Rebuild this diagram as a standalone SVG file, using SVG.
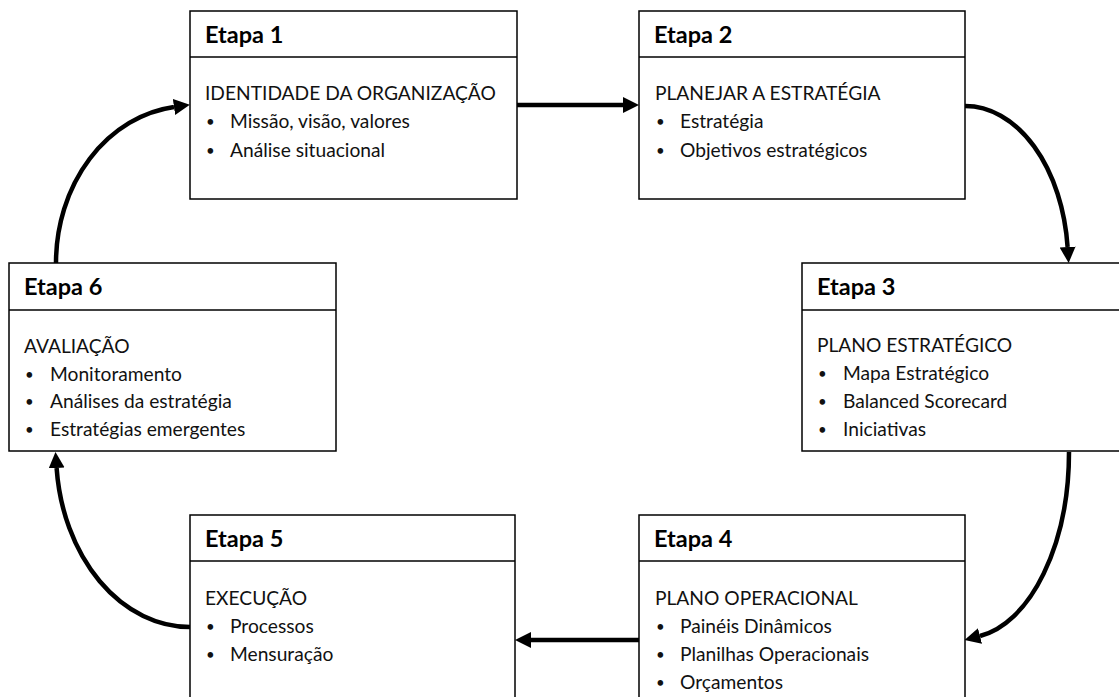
<svg xmlns="http://www.w3.org/2000/svg" width="1119" height="697" viewBox="0 0 1119 697">
<style>
.box{fill:#fff;stroke:#000;stroke-width:1.5}
.sep{stroke:#000;stroke-width:1.5}
.ttl{font-family:Lato,"Liberation Sans",sans-serif;font-weight:bold;font-size:23.5px;fill:#000}
.txt{font-family:Lato,"Liberation Sans",sans-serif;font-size:19.2px;fill:#111}
.bul{font-family:Lato,"Liberation Sans",sans-serif;font-size:15px;fill:#111}
.con{fill:none;stroke:#000;stroke-width:4.5}
</style>
<defs>
<marker id="ah" markerUnits="userSpaceOnUse" markerWidth="17" markerHeight="17" refX="0" refY="8" orient="auto">
<path d="M0,0 L16,8 L0,16 z" fill="#000"/>
</marker>
</defs>
<rect width="1119" height="697" fill="#fff"/>
<g id="connectors">
<path class="con" d="M517,105 L623,105" marker-end="url(#ah)"/>
<path class="con" d="M965,106 A103,157 0 0 1 1067.6,247" marker-end="url(#ah)"/>
<path class="con" d="M1069,452 A104,186 0 0 1 980,636" marker-end="url(#ah)"/>
<path class="con" d="M639,640 L531,640" marker-end="url(#ah)"/>
<path class="con" d="M190,627 A134,175 0 0 1 56.6,468" marker-end="url(#ah)"/>
<path class="con" d="M56,263 A134,157 0 0 1 174,107" marker-end="url(#ah)"/>
</g>
<g id="etapa1">
<rect class="box" x="190" y="11" width="327" height="188"/>
<line class="sep" x1="190" y1="57" x2="517" y2="57"/>
<text class="ttl" x="205" y="43">Etapa 1</text>
<text class="txt" x="205" y="100">IDENTIDADE DA ORGANIZAÇÃO</text>
<text class="bul" x="206" y="127">•</text><text class="txt" x="230" y="128">Missão, visão, valores</text>
<text class="bul" x="206" y="156">•</text><text class="txt" x="230" y="157">Análise situacional</text>
</g>
<g id="etapa2">
<rect class="box" x="639" y="11" width="326" height="188"/>
<line class="sep" x1="639" y1="57" x2="965" y2="57"/>
<text class="ttl" x="654" y="43">Etapa 2</text>
<text class="txt" x="655" y="100">PLANEJAR A ESTRATÉGIA</text>
<text class="bul" x="656" y="127">•</text><text class="txt" x="680" y="128">Estratégia</text>
<text class="bul" x="656" y="156">•</text><text class="txt" x="680" y="157">Objetivos estratégicos</text>
</g>
<g id="etapa3">
<rect class="box" x="802" y="263" width="330" height="188"/>
<line class="sep" x1="802" y1="310" x2="1132" y2="310"/>
<text class="ttl" x="817" y="295">Etapa 3</text>
<text class="txt" x="817" y="352">PLANO ESTRATÉGICO</text>
<text class="bul" x="818" y="379">•</text><text class="txt" x="843" y="380">Mapa Estratégico</text>
<text class="bul" x="818" y="407">•</text><text class="txt" x="843" y="408">Balanced Scorecard</text>
<text class="bul" x="818" y="435">•</text><text class="txt" x="843" y="436">Iniciativas</text>
</g>
<g id="etapa4">
<rect class="box" x="639" y="515" width="326" height="200"/>
<line class="sep" x1="639" y1="561" x2="965" y2="561"/>
<text class="ttl" x="654" y="547">Etapa 4</text>
<text class="txt" x="655" y="605">PLANO OPERACIONAL</text>
<text class="bul" x="656" y="632">•</text><text class="txt" x="680" y="633">Painéis Dinâmicos</text>
<text class="bul" x="656" y="660">•</text><text class="txt" x="680" y="661">Planilhas Operacionais</text>
<text class="bul" x="656" y="688">•</text><text class="txt" x="680" y="689">Orçamentos</text>
</g>
<g id="etapa5">
<rect class="box" x="190" y="515" width="325" height="200"/>
<line class="sep" x1="190" y1="561" x2="515" y2="561"/>
<text class="ttl" x="205" y="547">Etapa 5</text>
<text class="txt" x="205" y="605">EXECUÇÃO</text>
<text class="bul" x="206" y="632">•</text><text class="txt" x="230" y="633">Processos</text>
<text class="bul" x="206" y="660">•</text><text class="txt" x="230" y="661">Mensuração</text>
</g>
<g id="etapa6">
<rect class="box" x="9" y="263" width="327" height="188"/>
<line class="sep" x1="9" y1="310" x2="336" y2="310"/>
<text class="ttl" x="24" y="295">Etapa 6</text>
<text class="txt" x="24" y="353">AVALIAÇÃO</text>
<text class="bul" x="25" y="380">•</text><text class="txt" x="50" y="381">Monitoramento</text>
<text class="bul" x="25" y="407">•</text><text class="txt" x="50" y="408">Análises da estratégia</text>
<text class="bul" x="25" y="435">•</text><text class="txt" x="50" y="436">Estratégias emergentes</text>
</g>
</svg>
